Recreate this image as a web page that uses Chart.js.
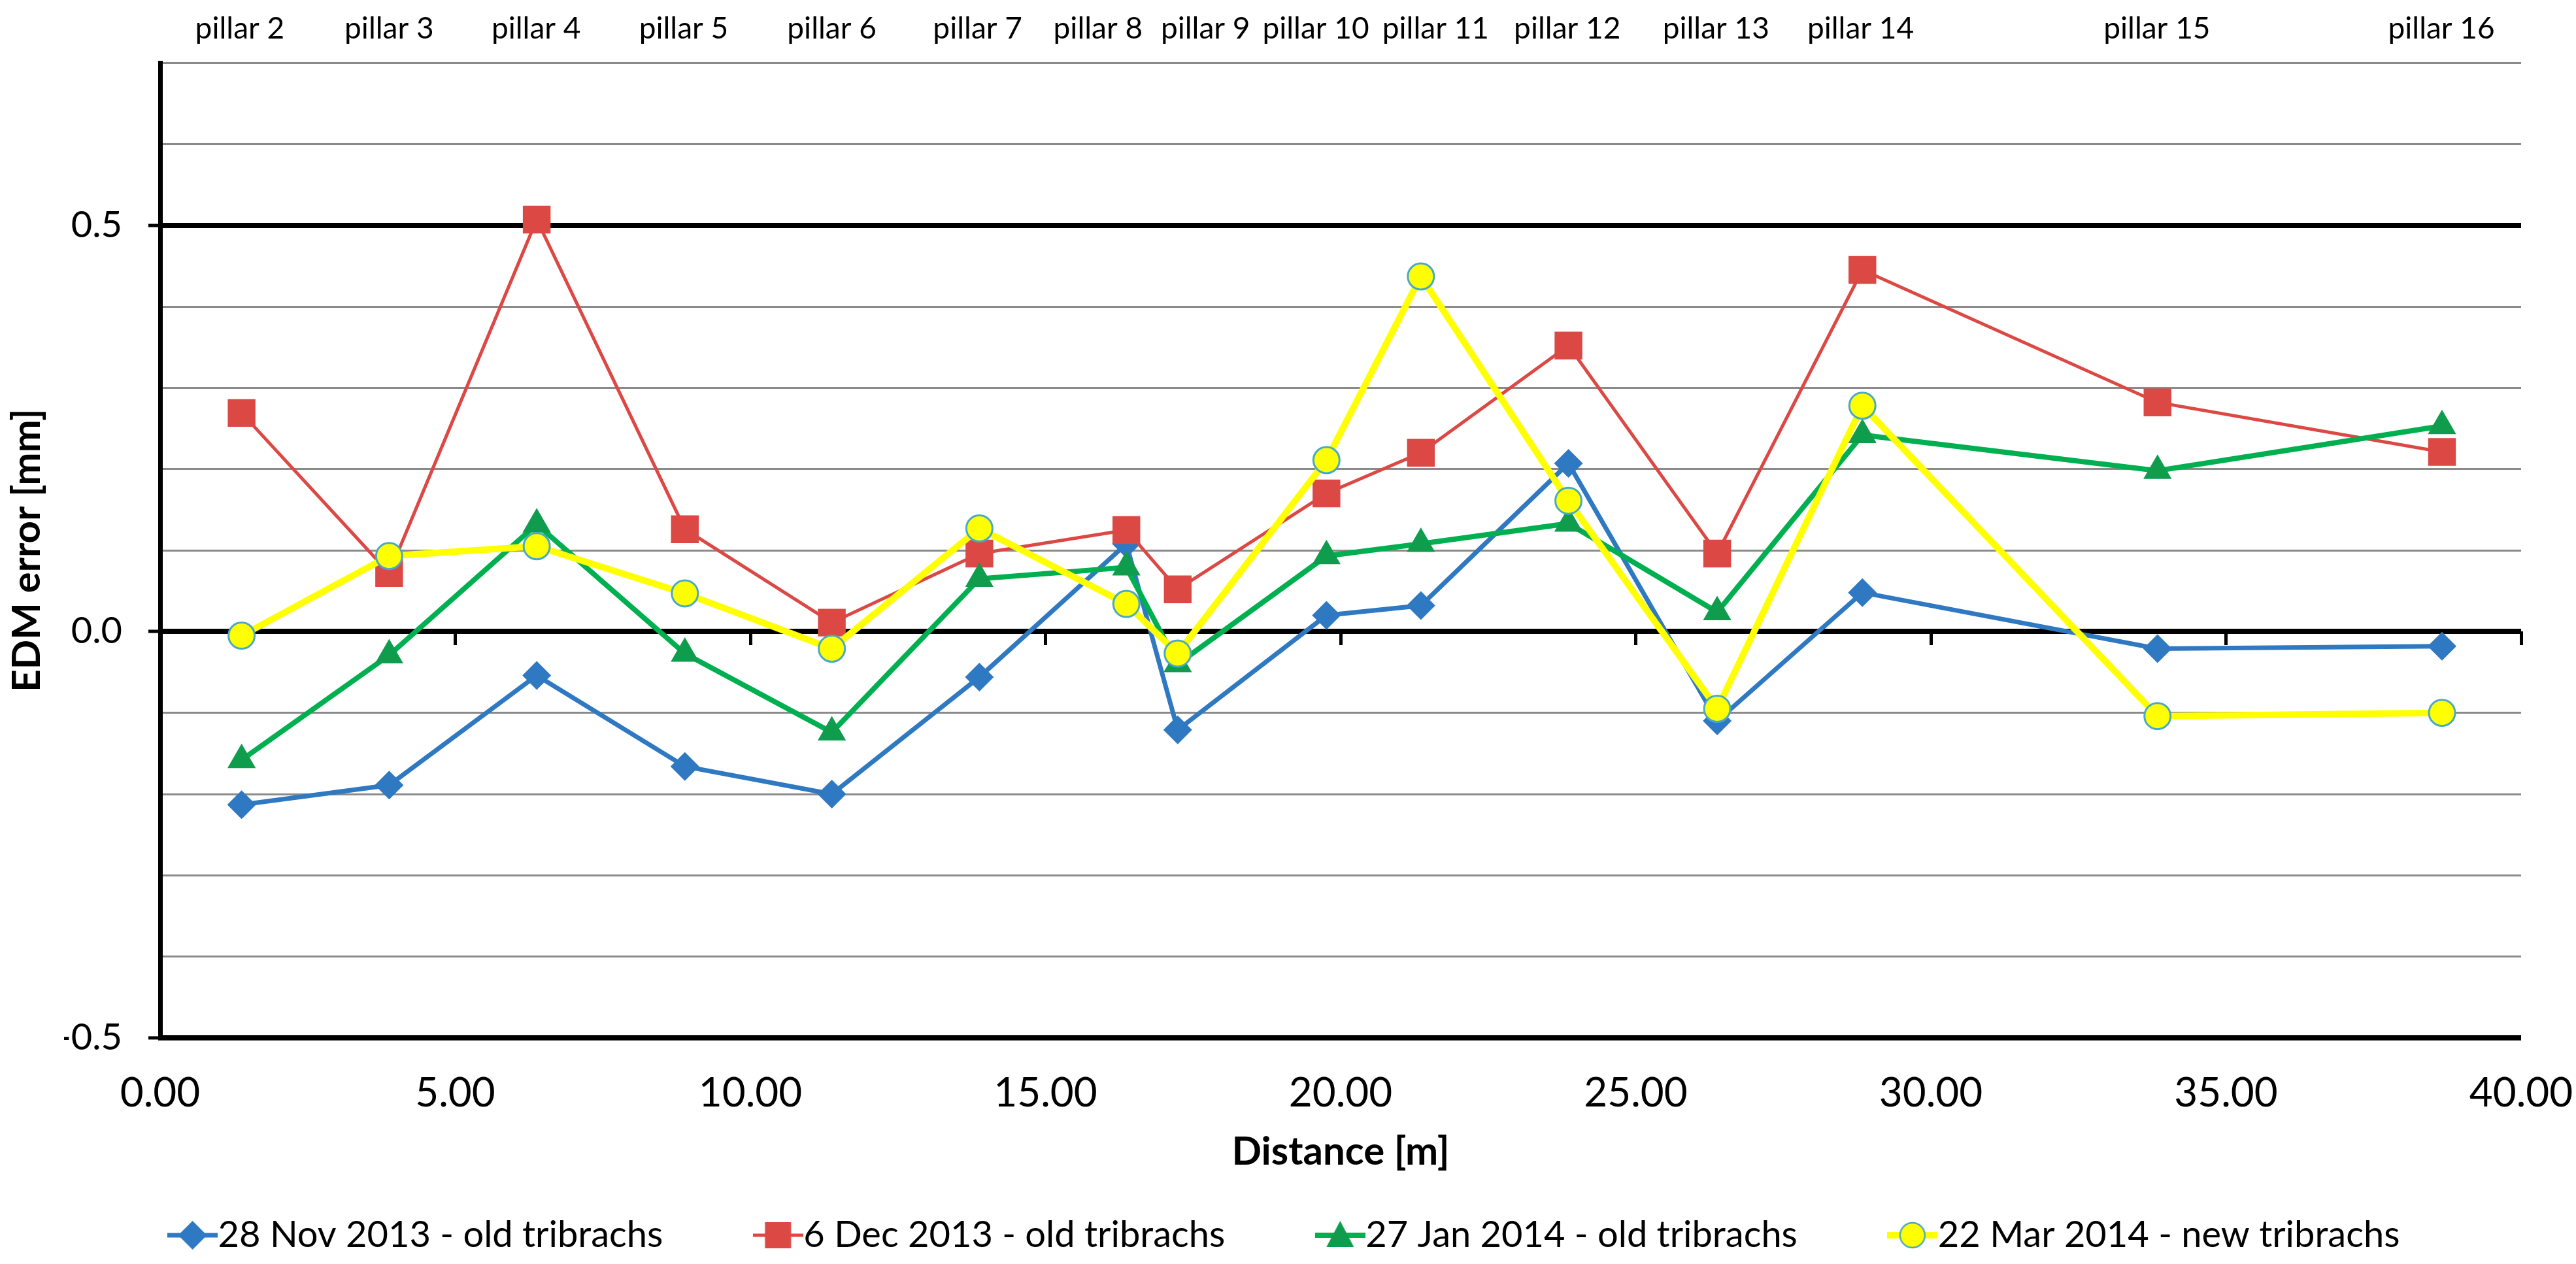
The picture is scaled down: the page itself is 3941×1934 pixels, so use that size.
<!DOCTYPE html>
<html lang="en">
<head>
    <meta charset="UTF-8">
    <title>EDM error vs distance</title>
    <script src="https://cdn.jsdelivr.net/npm/chart.js@4"></script>
    <style>
        html, body {
            margin: 0;
            padding: 0;
            background: #ffffff;
        }

        #edm {
            display: block;
            width: 3941px;
            height: 1934px;
        }
    </style>
</head>
<body>
    <canvas id="edm" width="3941" height="1934"></canvas>

    <script>
        // distance of each pillar from the instrument [m]
        const distance = [1.38, 3.88, 6.38, 8.89, 11.38, 13.88, 16.37, 17.24, 19.76, 21.36, 23.86, 26.38, 28.84, 33.84, 38.66];

        // pillar names and where their labels sit along the top axis [m]
        const pillars = ['pillar 2', 'pillar 3', 'pillar 4', 'pillar 5', 'pillar 6', 'pillar 7', 'pillar 8', 'pillar 9',
                         'pillar 10', 'pillar 11', 'pillar 12', 'pillar 13', 'pillar 14', 'pillar 15', 'pillar 16'];
        const pillarLabelX = [1.35, 3.88, 6.37, 8.87, 11.38, 13.85, 15.89, 17.71, 19.58, 21.61, 23.84, 26.36, 28.81, 33.83, 38.65];

        // EDM error [mm] per campaign
        const nov2013 = [-0.213, -0.189, -0.054, -0.166, -0.200, -0.056, 0.108, -0.121, 0.020, 0.032, 0.207, -0.110, 0.048, -0.021, -0.018];
        const dec2013 = [0.269, 0.072, 0.507, 0.126, 0.011, 0.096, 0.125, 0.052, 0.170, 0.220, 0.352, 0.096, 0.445, 0.282, 0.221];
        const jan2014 = [-0.158, -0.029, 0.132, -0.027, -0.124, 0.065, 0.079, -0.040, 0.093, 0.108, 0.133, 0.024, 0.242, 0.198, 0.253];
        const mar2014 = [-0.005, 0.093, 0.105, 0.047, -0.021, 0.127, 0.034, -0.027, 0.211, 0.437, 0.161, -0.095, 0.278, -0.104, -0.100];

        const seriesNames = ['28 Nov 2013 - old tribrachs', '6 Dec 2013 - old tribrachs',
                             '27 Jan 2014 - old tribrachs', '22 Mar 2014 - new tribrachs'];

        // axis ticks
        const xTickStep = 5;
        const yTickStep = 0.1;
        const yLabelled = [-0.5, 0.0, 0.5];

        const isLabelled = v => yLabelled.some(m => Math.abs(m - v) < 1e-9);
        const yLabel = v => (Math.abs(v) < 1e-9 ? 0 : v).toFixed(1);

        Chart.defaults.font.family = 'Lato, "Open Sans", sans-serif';
        Chart.defaults.color = '#000000';

        // little line + marker pictures for the legend
        function legendIcon(lineColor, lineWidth, shape, fill, stroke) {
            const c = document.createElement('canvas');
            c.width = 77;
            c.height = 50;
            const g = c.getContext('2d');
            const cx = c.width / 2, cy = c.height / 2;
            g.strokeStyle = lineColor;
            g.lineWidth = lineWidth;
            g.beginPath();
            g.moveTo(0, cy);
            g.lineTo(c.width, cy);
            g.stroke();
            g.fillStyle = fill;
            g.beginPath();
            if (shape === 'rectRot') {
                g.moveTo(cx, cy - 22); g.lineTo(cx + 22, cy); g.lineTo(cx, cy + 22); g.lineTo(cx - 22, cy);
            } else if (shape === 'rect') {
                g.rect(cx - 20, cy - 20, 40, 40);
            } else if (shape === 'triangle') {
                g.moveTo(cx, cy - 22); g.lineTo(cx + 21, cy + 18); g.lineTo(cx - 21, cy + 18);
            } else {
                g.arc(cx, cy, 19, 0, Math.PI * 2);
            }
            g.closePath();
            g.fill();
            if (stroke) {
                g.strokeStyle = stroke;
                g.lineWidth = 2.5;
                g.stroke();
            }
            return c;
        }

        function series(label, values, color, width, style, radius, fill, stroke, order) {
            return {
                label: label,
                data: distance.map((d, i) => ({ x: d, y: values[i] })),
                xAxisID: 'x',
                yAxisID: 'y',
                borderColor: color,
                borderWidth: width,
                pointStyle: style,
                pointRadius: radius,
                pointBackgroundColor: fill,
                pointBorderColor: stroke || fill,
                pointBorderWidth: stroke ? 3 : 0,
                tension: 0,
                fill: false,
                order: order
            };
        }

        const datasets = [
            series(seriesNames[0], nov2013, '#2f78c2', 7, 'rectRot', 22, '#2f78c2', null, 3),
            series(seriesNames[1], dec2013, '#dc4844', 5, 'rect', 30, '#dc4844', null, 2),
            series(seriesNames[2], jan2014, '#00b050', 8, 'triangle', 25, '#0f9c4c', null, 1),
            series(seriesNames[3], mar2014, '#ffff00', 10, 'circle', 20, '#ffff00', '#48a9c5', 0)
        ];

        const icons = [
            legendIcon('#2f78c2', 7, 'rectRot', '#2f78c2'),
            legendIcon('#dc4844', 5, 'rect', '#dc4844'),
            legendIcon('#00b050', 8, 'triangle', '#0f9c4c'),
            legendIcon('#ffff00', 10, 'circle', '#ffff00', '#48a9c5')
        ];

        // keep the plot edges where they are, whatever the label widths
        const noSidePadding = s => { s.paddingLeft = 0; s.paddingRight = 0; };

        new Chart(document.getElementById('edm'), {
            type: 'line',
            data: { datasets: datasets },
            options: {
                responsive: false,
                animation: false,
                devicePixelRatio: 1,
                layout: { padding: { left: 98, right: 84, top: 0, bottom: 6 } },
                plugins: {
                    tooltip: { enabled: false },
                    legend: {
                        position: 'bottom',
                        labels: {
                            usePointStyle: true,
                            pointStyleWidth: 22,
                            padding: 165,
                            font: { size: 56 },
                            sort: (a, b) => a.datasetIndex - b.datasetIndex,
                            generateLabels: chart => {
                                const items = Chart.defaults.plugins.legend.labels.generateLabels(chart);
                                items.forEach(it => { it.pointStyle = icons[it.datasetIndex]; });
                                return items;
                            }
                        }
                    }
                },
                scales: {
                    x: {
                        type: 'linear',
                        position: 'bottom',
                        min: 0,
                        max: 40,
                        ticks: {
                            stepSize: xTickStep,
                            maxRotation: 0,
                            padding: 48,
                            font: { size: 62 },
                            callback: v => v.toFixed(2)
                        },
                        grid: { display: false, drawTicks: false },
                        border: { display: false },
                        title: {
                            display: true,
                            text: 'Distance [m]',
                            font: { size: 60, weight: 'bold' },
                            padding: { top: 0, bottom: -102 }
                        },
                        afterFit: s => { s.height = 109; noSidePadding(s); }
                    },
                    xZero: {
                        type: 'linear',
                        position: { y: 0 },
                        min: 0,
                        max: 40,
                        ticks: { stepSize: xTickStep, display: false },
                        grid: { drawOnChartArea: false, tickLength: 21, tickWidth: 5, tickColor: '#000000' },
                        border: { display: false },
                        afterFit: noSidePadding
                    },
                    xTop: {
                        type: 'linear',
                        position: 'top',
                        min: 0,
                        max: 40,
                        afterBuildTicks: s => { s.ticks = pillarLabelX.map(v => ({ value: v })); },
                        ticks: {
                            autoSkip: false,
                            maxRotation: 0,
                            padding: 24,
                            font: { size: 46 },
                            callback: (v, i) => pillars[i]
                        },
                        grid: { display: false, drawTicks: false },
                        border: { display: false },
                        afterFit: s => { s.height = 96; noSidePadding(s); }
                    },
                    y: {
                        min: -0.5,
                        max: 0.7,
                        ticks: {
                            stepSize: yTickStep,
                            autoSkip: false,
                            padding: 40,
                            font: { size: 56 },
                            callback: v => isLabelled(v) ? yLabel(v) : ''
                        },
                        grid: {
                            color: c => isLabelled(c.tick.value) ? '#000000' : '#8a8a8a',
                            lineWidth: c => isLabelled(c.tick.value) ? 8 : 3,
                            tickColor: c => isLabelled(c.tick.value) ? '#000000' : 'rgba(0,0,0,0)',
                            tickWidth: 5,
                            tickLength: 18
                        },
                        border: { color: '#000000', width: 7 },
                        title: {
                            display: true,
                            text: 'EDM error [mm]',
                            font: { size: 60, weight: 'bold' },
                            padding: { top: -92, bottom: 0 }
                        },
                        afterFit: s => { s.width = 147; }
                    }
                }
            }
        });
    </script>
</body>
</html>
